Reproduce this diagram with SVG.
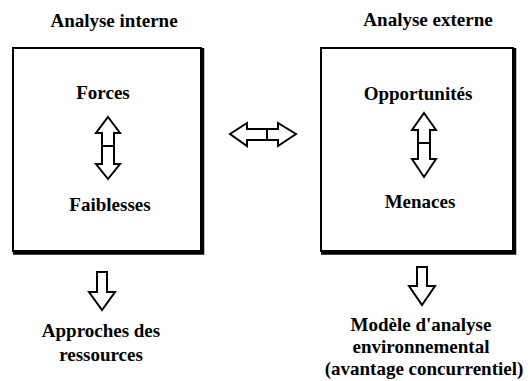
<svg xmlns="http://www.w3.org/2000/svg" width="530" height="381" viewBox="0 0 530 381">
<style>
text{font-family:"Liberation Serif","Times New Roman",serif;font-weight:bold;font-size:19px;fill:#000;text-anchor:middle}
.box{fill:#fff;stroke:#000;stroke-width:2}
.shadow{fill:none;stroke:#000;stroke-width:3.5}
.arr{fill:#fff;stroke:#000;stroke-width:2;stroke-linejoin:miter}
.bar{stroke:#000;stroke-width:2}
</style>
<rect width="530" height="381" fill="#fff"/>
<g id="interne">
<text x="114" y="27">Analyse interne</text>
<rect class="box" x="13" y="48" width="188" height="203"/>
<polyline class="shadow" points="202.5,48 202.5,253 13,253"/>
<text x="103" y="99">Forces</text>
<text x="110" y="211">Faiblesses</text>
</g>
<g id="externe">
<text x="428" y="26">Analyse externe</text>
<rect class="box" x="321" y="48" width="192" height="203"/>
<polyline class="shadow" points="514.5,48 514.5,253 321,253"/>
<text x="418" y="100">Opportunités</text>
<text x="420" y="208">Menaces</text>
</g>
<g id="ressources">
<text x="101" y="337">Approches des</text>
<text x="101" y="361">ressources</text>
</g>
<g id="modele">
<text x="421" y="331">Modèle d'analyse</text>
<text x="421" y="353">environnemental</text>
<text x="424" y="375">(avantage concurrentiel)</text>
</g>
<g id="connectors">
<polygon class="arr" points="108,117 120,133 114,133 114,164 120,164 108,179 96,164 102,164 102,133 96,133"/>
<line class="bar" x1="102" y1="146" x2="114" y2="146"/>
<polygon class="arr" points="424,113 436,130 430,130 430,159 436,159 424,177 412,159 418,159 418,130 412,130"/>
<line class="bar" x1="418" y1="143" x2="430" y2="143"/>
<polygon class="arr" points="230,134 247,123 247,129 278,129 278,123 296,134 278,146 278,140 247,140 247,146"/>
<line class="bar" x1="267" y1="129" x2="267" y2="140"/>
<polygon class="arr" points="97,272 107,272 107,292 115,292 102,310 89,292 97,292"/>
<polygon class="arr" points="417,267 427,267 427,286 435,286 422,305 409,286 417,286"/>
</g>
</svg>
